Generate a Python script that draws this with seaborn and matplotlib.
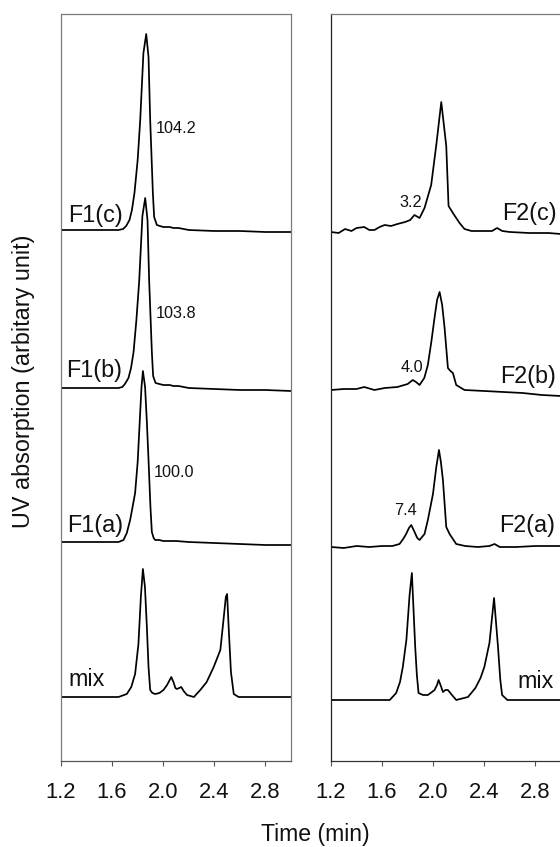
import numpy as np
import pandas as pd
import matplotlib
matplotlib.use("Agg")
import matplotlib.pyplot as plt
import seaborn as sns

# ---------------- data ----------------
# Left panel (F1) traces: time (min) and signal above baseline (arbitrary units)
f1c_t = [1.20, 1.45, 1.65, 1.686, 1.71, 1.736, 1.755, 1.775, 1.80, 1.82, 1.845, 1.867, 1.885, 1.898,
         1.919, 1.929, 1.95, 2.00, 2.05, 2.08, 2.12, 2.20, 2.40, 2.60, 2.80, 3.00]
f1c_h = [0, 0, 0, 1, 4, 10, 20, 37, 70, 110, 177, 196, 173, 110,
         37, 13, 5, 3, 3, 2, 2, 0, -1, -1, -2, -2]

f1b_t = [1.20, 1.45, 1.65, 1.68, 1.70, 1.728, 1.748, 1.768, 1.79, 1.812, 1.837, 1.859, 1.877, 1.89,
         1.911, 1.921, 1.94, 2.00, 2.05, 2.08, 2.12, 2.20, 2.40, 2.60, 2.80, 3.00]
f1b_h = [0, 0, 0, 1, 4, 10, 20, 36, 68, 107, 172, 190, 168, 107,
         36, 12, 5, 3, 3, 2, 2, 0, -1, -2, -2, -3]

f1a_t = [1.20, 1.45, 1.65, 1.689, 1.715, 1.741, 1.76, 1.78, 1.80, 1.814, 1.83, 1.841, 1.858, 1.872,
         1.885, 1.90, 1.911, 1.925, 1.937, 1.97, 2.00, 2.06, 2.10, 2.20, 2.40, 2.60, 2.80, 3.00]
f1a_h = [0, 0, 0, 2, 9, 22, 35, 49, 80, 115, 155, 171, 155, 120,
         82, 35, 10, 4, 2, 2, 1, 1, 1, 0, -1, -2, -3, -3]

mix1_t = [1.20, 1.45, 1.65, 1.715, 1.75, 1.78, 1.806, 1.825, 1.841, 1.857, 1.872, 1.885, 1.898, 1.915,
          1.937, 1.97, 2.002, 2.03, 2.063, 2.08, 2.095, 2.107, 2.125, 2.141, 2.16, 2.186, 2.24, 2.29,
          2.34, 2.395, 2.447, 2.47, 2.49, 2.50, 2.512, 2.53, 2.552, 2.59, 2.70, 2.85, 3.00]
mix1_h = [0, 0, 0, 3, 10, 23, 53, 100, 128, 110, 70, 30, 7, 4,
          3, 4, 7, 12, 20, 15, 9, 8, 9, 10, 6, 2, 0, 7,
          15, 30, 47, 75, 100, 103, 70, 25, 3, 0, 0, 0, 0]

# Right panel (F2) traces
f2c_t = [1.20, 1.26, 1.31, 1.36, 1.40, 1.46, 1.50, 1.54, 1.58, 1.62, 1.67, 1.72, 1.78, 1.82,
         1.853, 1.893, 1.932, 1.984, 2.024, 2.063, 2.102, 2.12, 2.154, 2.206, 2.245, 2.30, 2.38,
         2.46, 2.50, 2.54, 2.60, 2.75, 2.90, 3.00]
f2c_h = [0, -1, 3, 1, 4, 5, 2, 2, 5, 7, 6, 8, 10, 12,
         17, 14, 24, 47, 87, 130, 86, 26, 19, 9, 3, 1, 1,
         1, 4, 1, 0, -1, -1, -2]

f2b_t = [1.20, 1.30, 1.40, 1.46, 1.54, 1.62, 1.72, 1.80, 1.84, 1.865, 1.893, 1.93, 1.958, 1.985,
         2.01, 2.03, 2.05, 2.07, 2.089, 2.115, 2.135, 2.154, 2.18, 2.245, 2.40, 2.55, 2.70, 2.85, 3.00]
f2b_h = [0, 1, 1, 3, 0, 2, 3, 6, 10, 8, 5, 12, 25, 48,
         72, 90, 98, 85, 62, 22, 19, 17, 5, 0, -1, -2, -3, -5, -6]

f2a_t = [1.20, 1.30, 1.40, 1.50, 1.60, 1.68, 1.736, 1.765, 1.788, 1.81, 1.828, 1.854, 1.875, 1.893,
         1.932, 1.958, 1.998, 2.024, 2.045, 2.06, 2.076, 2.102, 2.128, 2.154, 2.18, 2.25, 2.35,
         2.44, 2.48, 2.52, 2.65, 2.80, 3.00]
f2a_h = [0, -1, 1, 0, 1, 1, 3, 8, 13, 19, 22, 15, 9, 7,
         13, 27, 53, 80, 97, 85, 67, 20, 13, 8, 3, 1, 0,
         1, 3, 0, 0, 1, 1]

mix2_t = [1.20, 1.40, 1.60, 1.66, 1.71, 1.74, 1.762, 1.79, 1.815, 1.833, 1.859, 1.872, 1.885, 1.92,
          1.958, 1.99, 2.01, 2.03, 2.042, 2.06, 2.076, 2.095, 2.115, 2.14, 2.18, 2.272, 2.33, 2.37,
          2.40, 2.44, 2.476, 2.507, 2.525, 2.539, 2.58, 2.70, 2.85, 3.00]
mix2_h = [0, 0, 0, 0, 7, 18, 33, 60, 105, 127, 53, 25, 7, 5,
          5, 8, 10, 15, 20, 14, 8, 10, 10, 6, 0, 3, 12, 22,
          33, 57, 102, 53, 20, 5, 0, 0, 0, 0]

# stacking offsets of each trace (arbitrary units)
left_names = ["mix", "F1(a)", "F1(b)", "F1(c)"]
left_offsets = [64, 219, 373, 531]
right_names = ["mix", "F2(a)", "F2(b)", "F2(c)"]
right_offsets = [61, 214, 371, 529]

# peak-area annotations
left_ann_text = ["104.2", "103.8", "100.0"]
left_ann_t = [1.945, 1.945, 1.924]
left_ann_y = [628, 443, 284]
right_ann_text = ["3.2", "4.0", "7.4"]
right_ann_t = [1.911, 1.919, 1.875]
right_ann_y = [554, 389, 246]

# trace label positions
left_lab_t = [1.255, 1.684, 1.678, 1.684]
left_lab_y = [75, 229, 384, 539]
left_lab_ha = ["left", "right", "right", "right"]
right_lab_t = [2.941, 2.957, 2.957, 2.965]
right_lab_y = [73, 229, 378, 541]

xticks = [1.2, 1.6, 2.0, 2.4, 2.8]
xlim = (1.2, 3.0)
ylim = (0, 747)

# ---------------- figure ----------------
sns.set_style("white")
plt.rcParams["font.family"] = ["Liberation Sans", "DejaVu Sans"]

fig = plt.figure(figsize=(5.6, 8.47), dpi=100)
axL = fig.add_axes([61 / 560, 1 - 761 / 847, 230 / 560, 747 / 847])
axR = fig.add_axes([331 / 560, 1 - 761 / 847, 230 / 560, 747 / 847])

left_traces = [(mix1_t, mix1_h), (f1a_t, f1a_h), (f1b_t, f1b_h), (f1c_t, f1c_h)]
right_traces = [(mix2_t, mix2_h), (f2a_t, f2a_h), (f2b_t, f2b_h), (f2c_t, f2c_h)]


def draw(ax, traces, names, offsets):
    for (t, h), name, off in zip(traces, names, offsets):
        df = pd.DataFrame({"t": t, "y": np.asarray(h, float) + off})
        sns.lineplot(data=df, x="t", y="y", ax=ax, color="black", lw=1.25,
                     sort=False, estimator=None)


draw(axL, left_traces, left_names, left_offsets)
draw(axR, right_traces, right_names, right_offsets)

LABEL_FS = 16.8
ANN_FS = 11.7

for name, t, y, ha in zip(left_names, left_lab_t, left_lab_y, left_lab_ha):
    axL.text(t, y, name, ha=ha, va="baseline", fontsize=LABEL_FS, color="#111111")
for name, t, y in zip(right_names, right_lab_t, right_lab_y):
    axR.text(t, y, name, ha="right", va="baseline", fontsize=LABEL_FS, color="#111111")

for s, t, y in zip(left_ann_text, left_ann_t, left_ann_y):
    axL.text(t, y, s, ha="left", va="baseline", fontsize=ANN_FS, color="#111111")
for s, t, y in zip(right_ann_text, right_ann_t, right_ann_y):
    axR.text(t, y, s, ha="right", va="baseline", fontsize=ANN_FS, color="#111111")

for ax in (axL, axR):
    ax.set_xlim(*xlim)
    ax.set_ylim(*ylim)
    ax.set_xticks(xticks)
    ax.set_xticklabels([f"{v:.1f}" for v in xticks])
    ax.set_yticks([])
    ax.set_xlabel("")
    ax.set_ylabel("")
    ax.tick_params(axis="x", direction="out", length=3.6, width=0.8, color="#555555",
                   pad=11.5, labelsize=15.8, labelcolor="#111111", bottom=True)
    for sp in ax.spines.values():
        sp.set_visible(True)
        sp.set_linewidth(0.9)
        sp.set_color("#7a7a7a")

axL.spines["bottom"].set_color("#555555")
axR.spines["left"].set_color("#222222")
axR.spines["bottom"].set_color("#333333")

fig.text(24 / 560, 1 - 381 / 847, "UV absorption (arbitary unit)", rotation=90,
         ha="center", va="center", fontsize=16.8, color="#111111")
fig.text(315 / 560, 1 - 841 / 847, "Time (min)", ha="center", va="baseline",
         fontsize=16.6, color="#111111")

fig.savefig("out.png", dpi=100)
